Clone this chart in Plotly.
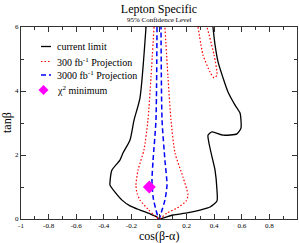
import plotly.graph_objects as go

# ---- data ----
cur_x = [-0.094, -0.138, -0.181, -0.21, -0.261, -0.283, -0.341, -0.355, -0.355, -0.319, -0.268, -0.21, -0.138, -0.065, -0.014, 0.0,
         0.101, 0.203, 0.297, 0.37, 0.42, 0.42, 0.406, 0.384, 0.362, 0.355, 0.384, 0.464, 0.565, 0.594, 0.594, 0.587, 0.551, 0.5, 0.464, 0.428, 0.406, 0.391]
cur_y = [6.0, 3.78, 3.09, 2.47, 2.06, 1.84, 1.53, 1.16, 1.06, 0.84, 0.59, 0.41, 0.28, 0.16, 0.06, 0.0,
         0.125, 0.19, 0.28, 0.375, 0.56, 0.91, 1.53, 1.94, 2.375, 2.62, 2.72, 2.62, 2.66, 2.84, 3.09, 3.31, 3.56, 3.97, 4.41, 4.91, 5.44, 6.0]

p300_x = [-0.036, -0.058, -0.08, -0.109, -0.152, -0.167, -0.159, -0.138, -0.08, -0.029, 0.0,
          0.014, 0.058, 0.13, 0.196, 0.21, 0.174, 0.116, 0.087, 0.065, 0.043]
p300_y = [6.0, 4.44, 3.09, 2.16, 1.53, 1.06, 0.81, 0.59, 0.31, 0.09, 0.0,
          0.03, 0.19, 0.34, 0.56, 0.75, 1.31, 2.06, 3.09, 4.44, 6.0]

p300b_x = [0.283, 0.319, 0.37, 0.399, 0.42, 0.399, 0.348]
p300b_y = [6.0, 5.125, 4.59, 4.41, 4.5, 5.125, 6.0]

p3000_x = [-0.0145, -0.022, -0.043, -0.051, -0.043, -0.022, 0.0, 0.022, 0.043, 0.058, 0.043, 0.022, 0.0145]
p3000_y = [6.0, 3.09, 1.84, 1.22, 0.69, 0.28, 0.0, 0.28, 0.59, 1.06, 1.84, 3.09, 6.0]

chi2_x = [-0.07]
chi2_y = [1.0]

legend_labels = ["current limit", "300 fb<sup>-1</sup> Projection",
                 "3000 fb<sup>-1</sup> Projection", "χ<sup>2</sup> minimum"]

x_ticks = [-1, -0.8, -0.6, -0.4, -0.2, 0, 0.2, 0.4, 0.6, 0.8, 1]
x_ticklabels = ["-1", "-0.8", "-0.6", "-0.4", "-0.2", "0", "0.2", "0.4", "0.6", "0.8", "1"]
y_ticks = [0, 2, 4, 6]

FONT = "Liberation Serif"
RED_DOT = "1.5px,2px"
BLUE_DASH = "5px,3px"

fig = go.Figure()
fig.add_trace(go.Scatter(x=cur_x, y=cur_y, mode="lines", line=dict(color="black", width=1.3, shape="spline", smoothing=0.6)))
fig.add_trace(go.Scatter(x=p300_x, y=p300_y, mode="lines", line=dict(color="red", width=1.2, dash=RED_DOT, shape="spline", smoothing=0.6)))
fig.add_trace(go.Scatter(x=p300b_x, y=p300b_y, mode="lines", line=dict(color="red", width=1.2, dash=RED_DOT, shape="spline", smoothing=0.6)))
fig.add_trace(go.Scatter(x=p3000_x, y=p3000_y, mode="lines", line=dict(color="blue", width=1.5, dash=BLUE_DASH, shape="spline", smoothing=0.6)))
fig.add_trace(go.Scatter(x=chi2_x, y=chi2_y, mode="markers", marker=dict(symbol="diamond", size=10, color="magenta")))

# manual legend (samples in pixel size, anchored in paper coords)
L, R, T, B = 21, 2, 27, 24
W, H = 299, 243
pw, ph = W - L - R, H - T - B
def px2paper(px, py):
    return (px - L) / pw, (H - B - py) / ph

shapes = []
annotations = []
rows = [46.5, 61.5, 75, 90]
styles = [dict(color="black", width=1.3, dash="solid"),
          dict(color="red", width=1.2, dash=RED_DOT),
          dict(color="blue", width=1.5, dash=BLUE_DASH)]
for i, lab in enumerate(legend_labels):
    ax, ay = px2paper(46, rows[i])
    if i < 3:
        shapes.append(dict(type="line", xref="paper", yref="paper", xsizemode="pixel", ysizemode="pixel",
                           xanchor=ax, yanchor=ay, x0=-5, x1=5, y0=0, y1=0, line=styles[i]))
    else:
        shapes.append(dict(type="path", xref="paper", yref="paper", xsizemode="pixel", ysizemode="pixel",
                           xanchor=ax - 2.5 / pw, yanchor=ay, path="M 0 5 L 5 0 L 0 -5 L -5 0 Z",
                           fillcolor="magenta", line=dict(width=0)))
    tx, ty = px2paper(55, rows[i])
    annotations.append(dict(text=lab, xref="paper", yref="paper", x=tx, y=ty, xanchor="left", yanchor="middle",
                            showarrow=False, font=dict(family=FONT, size=10, color="black")))

annotations.append(dict(text="95% Confidence Level", xref="paper", yref="paper", x=px2paper(159, 0)[0],
                        y=px2paper(0, 19.5)[1], xanchor="center", yanchor="middle", showarrow=False,
                        font=dict(family=FONT, size=7, color="black")))
annotations.append(dict(text="tanβ", xref="paper", yref="paper", x=px2paper(7, 0)[0], y=px2paper(0, 123)[1],
                        xanchor="center", yanchor="middle", textangle=-90, showarrow=False,
                        font=dict(family=FONT, size=12, color="black")))
annotations.append(dict(text="cos(β-α)", xref="paper", yref="paper", x=px2paper(159, 0)[0], y=px2paper(0, 236)[1],
                        xanchor="center", yanchor="middle", showarrow=False,
                        font=dict(family=FONT, size=12, color="black")))

fig.update_layout(
    width=W, height=H, margin=dict(l=L, r=R, t=T, b=B),
    paper_bgcolor="white", plot_bgcolor="white", showlegend=False,
    title=dict(text="Lepton Specific", x=159 / W, xanchor="center",
               y=1 - 9 / H, yanchor="middle", font=dict(family=FONT, size=12, color="black")),
    shapes=shapes, annotations=annotations,
)
fig.update_xaxes(range=[-1, 1], tickvals=x_ticks, ticktext=x_ticklabels, ticks="inside", ticklen=5,
                 tickcolor="#333", mirror="ticks", showline=True, linecolor="#333", linewidth=1,
                 showgrid=False, zeroline=False, tickfont=dict(family=FONT, size=7, color="black"),
                 minor=dict(dtick=0.1, ticks="inside", ticklen=3, tickcolor="#333"))
fig.update_yaxes(range=[0, 6], tickvals=y_ticks, ticks="inside", ticklen=5, tickcolor="#333",
                 mirror="ticks", showline=True, linecolor="#333", linewidth=1,
                 showgrid=False, zeroline=False, tickfont=dict(family=FONT, size=7, color="black"),
                 minor=dict(dtick=1, ticks="inside", ticklen=3, tickcolor="#333"))

fig.write_html("out.html", config={"displayModeBar": False},
               post_script="document.body.style.margin='0px';")
